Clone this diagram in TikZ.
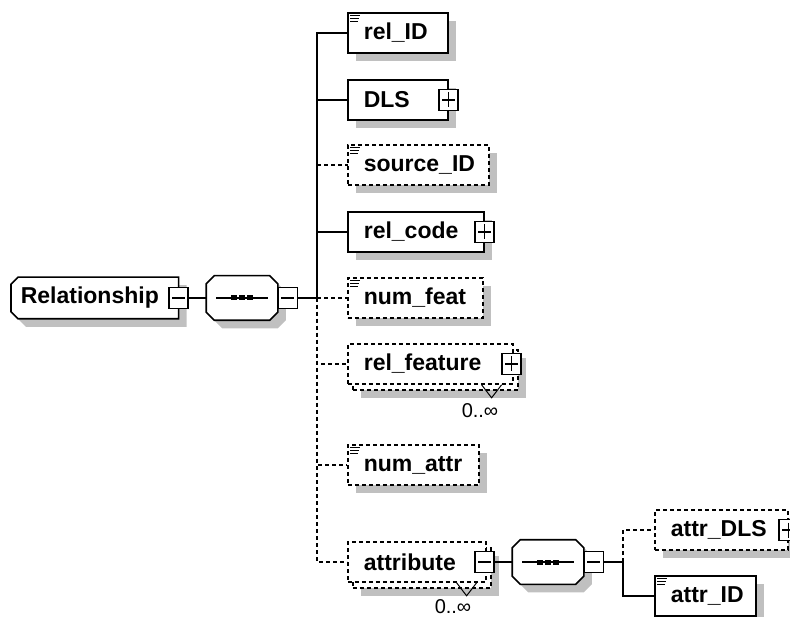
\documentclass[tikz,border=0pt]{standalone}
\usepackage{fontspec}
\setsansfont{Liberation Sans}
\usetikzlibrary{shadows}
\definecolor{shade}{RGB}{192,192,192}
\newcommand\elemfont{\fontsize{23}{25}\selectfont\sffamily\bfseries}
\newcommand\occfont{\fontsize{20}{22}\selectfont\sffamily}
% three short lines in the top left corner of a simple element
\newcommand\typemark[1]{%
  \foreach \k/\l in {3/10,6/9,9/8}
    \draw[line width=1pt] ([shift={(3pt,-\k pt)}]#1.north west) -- ++(\l,0);}
% outline of a node with cut corners: node, left cut, right cut
\newcommand\octpath[3]{([xshift=#2]#1.north west) -- ([xshift=-#3]#1.north east)
  -- ([yshift=-#3]#1.north east) -- ([yshift=#3]#1.south east)
  -- ([xshift=-#3]#1.south east) -- ([xshift=#2]#1.south west)
  -- ([yshift=#2]#1.south west) -- ([yshift=-#2]#1.north west) -- cycle}

\begin{document}
\begin{tikzpicture}[x=1pt,y=-1pt,line width=1.6pt,
    every node/.style={inner sep=0pt},
    shadowed/.style={drop shadow={shadow xshift=8pt,shadow yshift=-8pt,fill=shade,draw=none,opacity=1}},
    box/.style={draw,fill=white,minimum height=40pt,font=\elemfont,align=left,inner xsep=16pt},
    elem/.style={box,shadowed},
    opt/.style={dash pattern=on 4pt off 3pt},
    optelem/.style={elem,opt},
    symbox/.style={draw,fill=white,minimum width=19pt,minimum height=21pt,line width=1.3pt},
    symminus/.style={symbox,path picture={
      \draw[line width=1.3pt] ([xshift=3pt]path picture bounding box.west) -- ([xshift=-3pt]path picture bounding box.east);}},
    symplus/.style={symbox,path picture={
      \draw[line width=1.3pt] ([xshift=3pt]path picture bounding box.west) -- ([xshift=-3pt]path picture bounding box.east);
      \draw[line width=1.3pt] ([yshift=-3pt]path picture bounding box.north) -- ([yshift=3pt]path picture bounding box.south);}},
    compbox/.style={minimum width=70pt,minimum height=43pt},
    seqdot/.style={fill,minimum width=6pt,minimum height=5pt},
    notch/.style={line width=1pt},
    occ/.style={font=\occfont}]
  \useasboundingbox (0,0) rectangle (790,617);
  \clip (0,0) rectangle (790,617);

  \coordinate (t1) at (317,298);
  \coordinate (t2) at (623,562);

  % connectors of the outer sequence
  \draw[opt] (t1) |- (352,165);
  \draw[opt] (t1) -- (347,298);
  \draw[opt] (t1) |- (347,364);
  \draw[opt] (t1) |- (347,465);
  \draw[opt] (t1) |- (347,562);
  \draw (t1) |- (347,33);
  \draw (t1) |- (347,100);
  \draw (t1) |- (347,232);

  % root element
  \node[minimum width=166pt,minimum height=40pt,anchor=west] (relship) at (11,298) {};
  \draw[fill=white,shadowed] \octpath{relship}{7pt}{0pt};
  \node[font=\elemfont,anchor=west] (relshiptxt) at ([xshift=9pt]relship.west) {Relationship};
  \node[symminus] (relmin) at (relship.east) {};

  % sequence of the root
  \node[compbox] (seqA) at (242,298) {};
  \draw[fill=white,shadowed] \octpath{seqA}{8pt}{8pt};
  \draw[line width=1.3pt] ([xshift=10pt]seqA.west) -- ([xshift=-10pt]seqA.east);
  \foreach \d in {-8,0,8}
    \node[seqdot] at ([xshift=\d pt]seqA.center) {};
  \node[symminus,anchor=west] (seqAmin) at (seqA.east) {};
  \draw (relmin.east) -- (seqA.west);
  \draw (seqAmin.east) -- (t1);

  % children
  \node[elem,text width=68pt,anchor=west] (relid) at (347,33) {rel\_ID};
  \typemark{relid}
  \node[elem,text width=68pt,anchor=west] (dls) at (347,100) {DLS};
  \node[symplus] (dlsplus) at (dls.east) {};
  \node[optelem,text width=109pt,anchor=west] (srcid) at (347,165) {source\_ID};
  \typemark{srcid}
  \node[elem,text width=104pt,anchor=west] (relcode) at (347,232) {rel\_code};
  \node[symplus] (relcodeplus) at (relcode.east) {};
  \node[optelem,text width=103pt,anchor=west] (numfeat) at (347,298) {num\_feat};
  \typemark{numfeat}

  \node[optelem,minimum width=165pt,anchor=west] (relfeatbk) at (352,370) {};
  \node[box,opt,text width=133pt,anchor=west] (relfeat) at (347,364) {rel\_feature};
  \node[symplus] (relfeatplus) at ([xshift=-2pt]relfeat.east) {};
  \draw[notch] ([xshift=-32pt]relfeat.south east) -- ++(10,13) -- ++(10,-13);
  \node[occ] (relfeatocc) at (480,411) {0..∞};

  \node[optelem,text width=99pt,anchor=west] (numattr) at (347,465) {num\_attr};
  \typemark{numattr}

  \node[optelem,minimum width=138pt,anchor=west] (attrbk) at (352,568) {};
  \node[box,opt,text width=106pt,anchor=west] (attr) at (347,562) {attribute};
  \node[symminus] (attrmin) at ([xshift=-2pt]attr.east) {};
  \draw[notch] ([xshift=-30pt]attr.south east) -- ++(10,13) -- ++(10,-13);
  \node[occ] (attrocc) at (453,607) {0..∞};

  % inner sequence of attribute
  \node[compbox] (seqB) at (548,562) {};
  \draw[fill=white,shadowed] \octpath{seqB}{8pt}{8pt};
  \draw[line width=1.3pt] ([xshift=10pt]seqB.west) -- ([xshift=-10pt]seqB.east);
  \foreach \d in {-8,0,8}
    \node[seqdot] at ([xshift=\d pt]seqB.center) {};
  \node[symminus,anchor=west] (seqBmin) at (seqB.east) {};
  \draw (attrmin.east) -- (seqB.west);
  \draw (seqBmin.east) -- (t2);
  \draw[opt] (t2) |- (654,530);
  \draw (t2) |- (654,596);
  \node[optelem,text width=101pt,anchor=west] (attrdls) at (654,530) {attr\_DLS};
  \node[symplus] (attrdlsplus) at (attrdls.east) {};
  \node[elem,text width=69pt,anchor=west] (attrid) at (654,596) {attr\_ID};
  \typemark{attrid}
\end{tikzpicture}
\end{document}
